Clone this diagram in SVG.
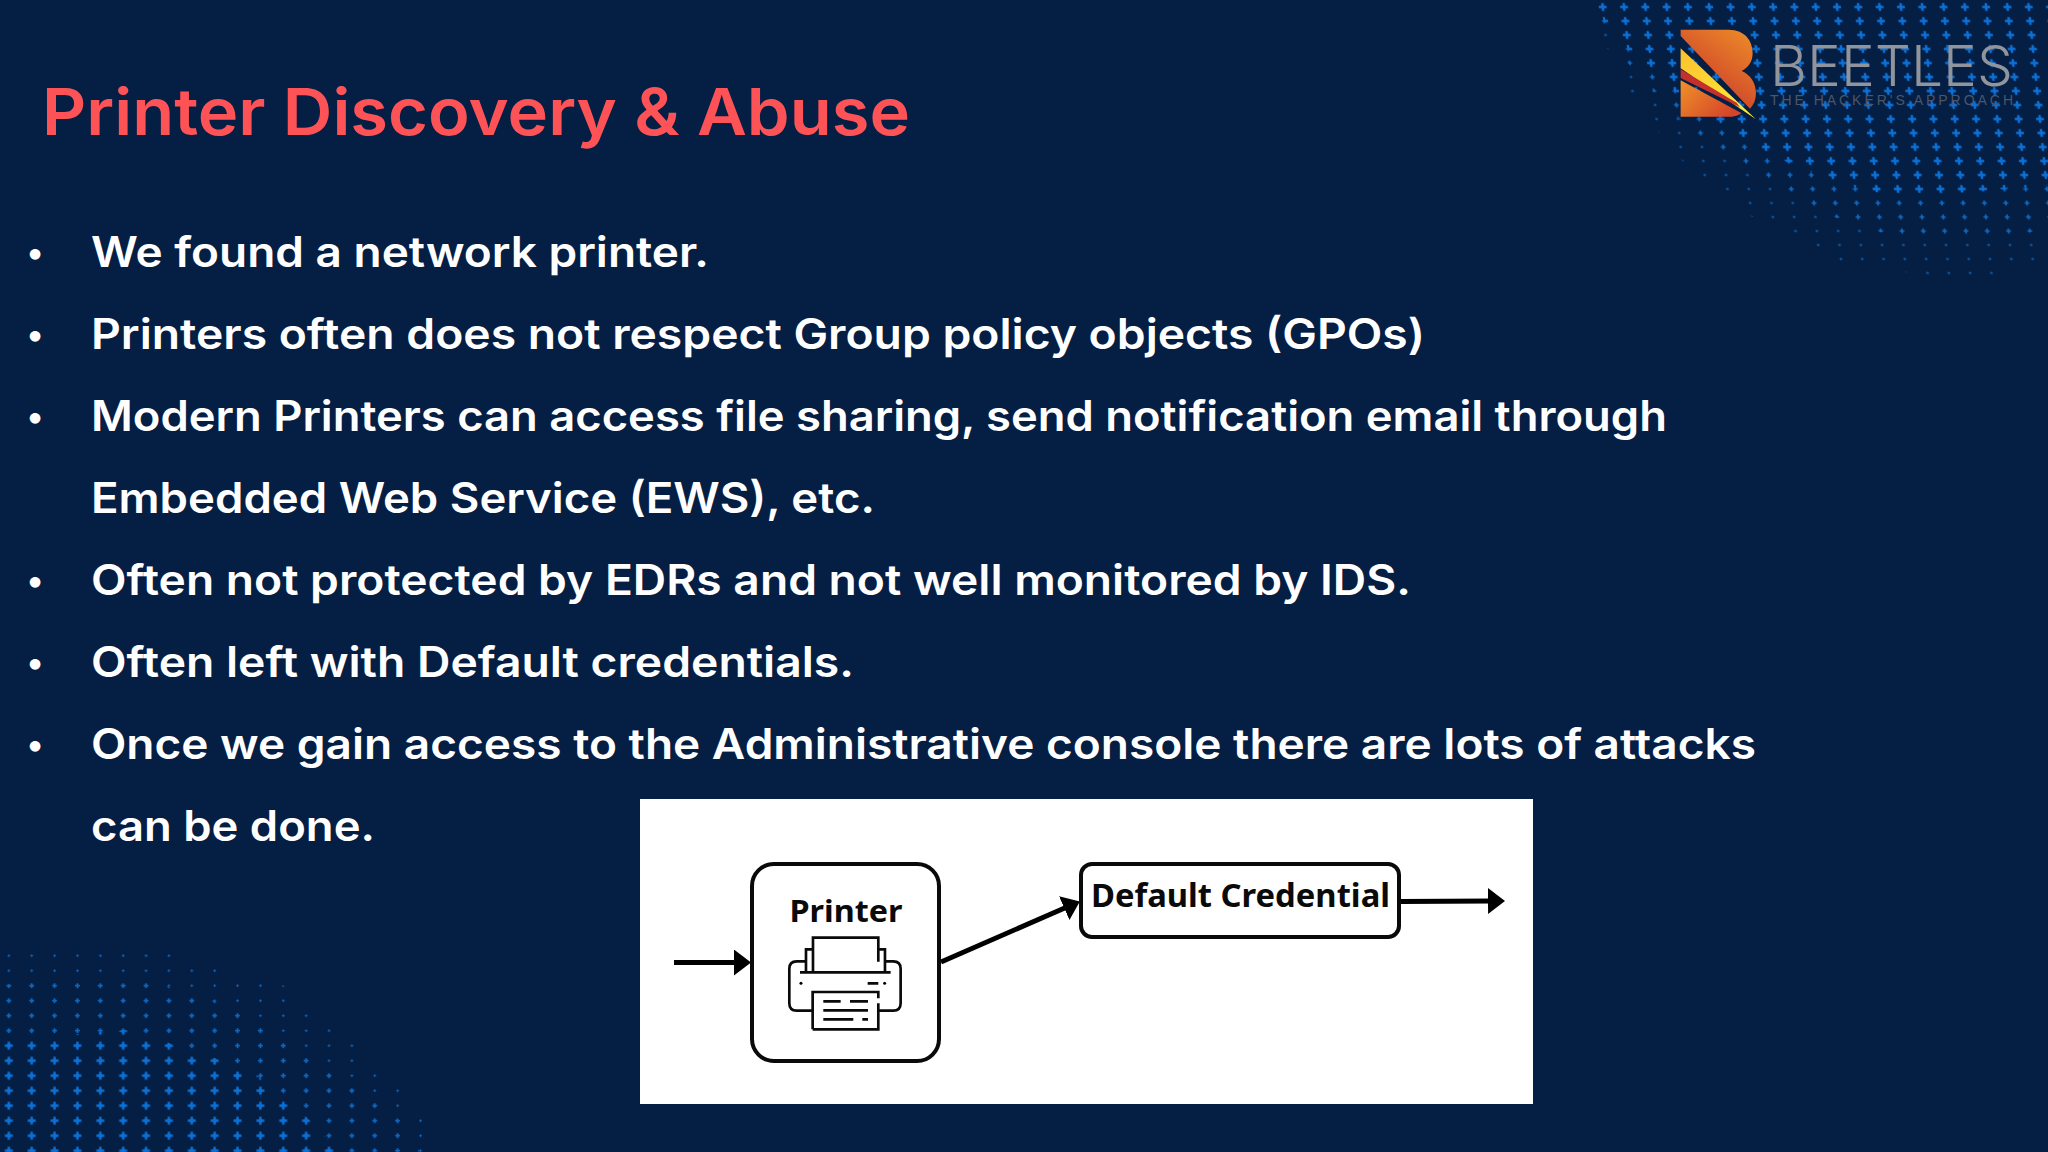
<svg xmlns="http://www.w3.org/2000/svg" width="2048" height="1152" viewBox="0 0 2048 1152">
<style>
.title{font:600 65px Inter,"Noto Sans",sans-serif;fill:#fd5357}
.body{font:600 42px Inter,"Noto Sans",sans-serif;fill:#fff}
.dot{font:600 34px Inter,"Noto Sans",sans-serif;fill:#fff}
.lab{font:700 31px "Noto Sans","Open Sans",sans-serif;fill:#0a0a0a}
.box{fill:#fff;stroke:#0a0a0a;stroke-width:4}
.wire{fill:none;stroke:#000;stroke-width:5}
.ico{fill:none;stroke:#0a0a0a;stroke-width:8}
.p3{stroke:#0e5cac;stroke-width:1.1;fill:none}
.p5{stroke:#0d68c2;stroke-width:1.6;fill:none}
.p7{stroke:#0b70d6;stroke-width:2.4;fill:none}
</style>
<defs>
<marker id="ah" markerUnits="userSpaceOnUse" markerWidth="20" markerHeight="30" refX="3" refY="13" orient="auto"><path d="M0 0L17 13L0 26z" fill="#000"/></marker>
<pattern id="tr3" width="21.3" height="14" patternUnits="userSpaceOnUse" patternTransform="translate(1847 0) skewX(5.71)"><path class="p3" d="M9.15 7H12.15M10.65 5.5V8.5"/></pattern>
<pattern id="tr5" width="21.3" height="14" patternUnits="userSpaceOnUse" patternTransform="translate(1847 0) skewX(5.71)"><path class="p5" d="M8.15 7H13.15M10.65 4.5V9.5"/></pattern>
<pattern id="tr7" width="21.3" height="14" patternUnits="userSpaceOnUse" patternTransform="translate(1847 0) skewX(5.71)"><path class="p7" d="M6.65 7H14.65M10.65 3V11"/></pattern>
<pattern id="bl3" width="22.87" height="15" patternUnits="userSpaceOnUse" patternTransform="translate(-2.6 948.2)"><path class="p3" d="M10 7.5H13M11.43 6V9"/></pattern>
<pattern id="bl5" width="22.87" height="15" patternUnits="userSpaceOnUse" patternTransform="translate(-2.6 948.2)"><path class="p5" d="M8.9 7.5H13.9M11.43 5V10"/></pattern>
<pattern id="bl7" width="22.87" height="15" patternUnits="userSpaceOnUse" patternTransform="translate(-2.6 948.2)"><path class="p7" d="M7.43 7.5H15.43M11.43 3.5V11.5"/></pattern>
<linearGradient id="lu" x1="1" y1="0" x2="0.3" y2="1"><stop offset="0" stop-color="#ef8f27"/><stop offset="1" stop-color="#c7342c"/></linearGradient>
<linearGradient id="ll" x1="0" y1="0" x2="1" y2="0.6"><stop offset="0" stop-color="#f09228"/><stop offset="1" stop-color="#d5452a"/></linearGradient>
<linearGradient id="ly" x1="0" y1="0" x2="1" y2="1"><stop offset="0" stop-color="#fbc02d"/><stop offset="1" stop-color="#fff23a"/></linearGradient>
</defs>
<rect width="2048" height="1152" fill="#041e44"/>
<g id="dots-top-right">
<path fill="url(#tr3)" d="M1592 0L1597 25L1626 90L1650 122L1675 152L1700 182L1723 194L1746 214L1768 224L1790 233L1814 252L1835 260L1860 266L1927 275L1992 275L2033 267L2048 260V0z"/>
<path fill="url(#tr5)" d="M1592 0L1600 18L1625 60L1680 120L1720 152L1770 185L1820 212L1880 232L1990 242L2048 228V0z"/>
<path fill="url(#tr7)" d="M1592 0L1610 30L1650 70L1710 120L1770 155L1840 183L1900 198L2048 185V0z"/>
</g>
<g id="dots-bottom-left">
<path fill="url(#bl3)" d="M0 948L40 944L90 942L140 946L190 958L250 976L285 986L300 1008L345 1032L370 1060L392 1074L415 1108L440 1140V1152H0z"/>
<path fill="url(#bl5)" d="M0 985L130 975L250 1012L330 1070L400 1120L420 1152H0z"/>
<path fill="url(#bl7)" d="M0 1040L130 1030L250 1070L300 1110L340 1152H0z"/>
</g>
<g id="logo">
<g transform="translate(1560 0) scale(.3333)">
<path fill="url(#lu)" d="M362 89H505C558 89 578 125 578 160C578 188 562 204 545 213C572 224 588 250 588 280C588 298 582 314 570 326L362 108z"/>
<path fill="url(#ly)" d="M362 145L588 358L362 205z"/>
<path fill="#c4302b" d="M362 208L530 308L540 322L362 234z"/>
<path fill="url(#ll)" d="M362 241L545 340C535 346 525 350 515 350H362z"/>
</g>
<text x="1770" y="86" font-family="Inter,'Liberation Sans',sans-serif" font-weight="300" font-size="56" fill="#90959d" textLength="243" lengthAdjust="spacingAndGlyphs">BEETLES</text>
<text x="1770" y="105" font-family="'Liberation Sans',sans-serif" font-size="14" fill="#4c5668" textLength="243" lengthAdjust="spacing">THE HACKER'S APPROACH</text>
</g>
<text id="title" class="title" x="42" y="135" textLength="868" lengthAdjust="spacingAndGlyphs">Printer Discovery &amp; Abuse</text>
<g id="bullets">
<text class="dot" x="35" y="264" text-anchor="middle">•</text>
<text class="body" x="91" y="267" textLength="618" lengthAdjust="spacingAndGlyphs">We found a network printer.</text>
<text class="dot" x="35" y="346" text-anchor="middle">•</text>
<text class="body" x="91" y="349" textLength="1334" lengthAdjust="spacingAndGlyphs">Printers often does not respect Group policy objects (GPOs)</text>
<text class="dot" x="35" y="428" text-anchor="middle">•</text>
<text class="body" x="91" y="431" textLength="1576" lengthAdjust="spacingAndGlyphs">Modern Printers can access file sharing, send notification email through</text>
<text class="body" x="91" y="513" textLength="784" lengthAdjust="spacingAndGlyphs">Embedded Web Service (EWS), etc.</text>
<text class="dot" x="35" y="592" text-anchor="middle">•</text>
<text class="body" x="91" y="595" textLength="1320" lengthAdjust="spacingAndGlyphs">Often not protected by EDRs and not well monitored by IDS.</text>
<text class="dot" x="35" y="674" text-anchor="middle">•</text>
<text class="body" x="91" y="677" textLength="763" lengthAdjust="spacingAndGlyphs">Often left with Default credentials.</text>
<text class="dot" x="35" y="756" text-anchor="middle">•</text>
<text class="body" x="91" y="759" textLength="1665" lengthAdjust="spacingAndGlyphs">Once we gain access to the Administrative console there are lots of attacks</text>
<text class="body" x="91" y="841" textLength="284" lengthAdjust="spacingAndGlyphs">can be done.</text>
</g>
<rect id="panel" x="640" y="799" width="893" height="305" fill="#fff"/>
<g id="connectors">
<path class="wire" d="M674 962.5H737" marker-end="url(#ah)"/>
<path class="wire" d="M941 962L1067 907" marker-end="url(#ah)"/>
<path class="wire" d="M1401 901.5L1491 901" marker-end="url(#ah)"/>
</g>
<g id="node-printer">
<rect class="box" x="752" y="864" width="187" height="197" rx="22"/>
<text class="lab" x="846" y="922" text-anchor="middle" textLength="113" lengthAdjust="spacingAndGlyphs">Printer</text>
<g transform="translate(630 790) scale(.3333)">
<path class="ico" d="M549 545V443H745V515M549 478H528V545M745 478H765V545M528 514H500Q478 514 478 536V640Q478 662 500 662H548M765 514H790Q812 514 812 536V640Q812 662 790 662H745M510 547H782M713 580H745M548 718V606H745V625M745 640V718H548M580 634H632M660 634H714M580 661H714M580 688H670M697 688H714"/>
<circle cx="513" cy="580" r="4.5"/><circle cx="764" cy="580" r="4.5"/>
</g>
</g>
<g id="node-default-credential">
<rect class="box" x="1081" y="864" width="318" height="73" rx="11"/>
<text class="lab" x="1091" y="907" style="font-size:33px" textLength="299" lengthAdjust="spacingAndGlyphs">Default Credential</text>
</g>
</svg>
